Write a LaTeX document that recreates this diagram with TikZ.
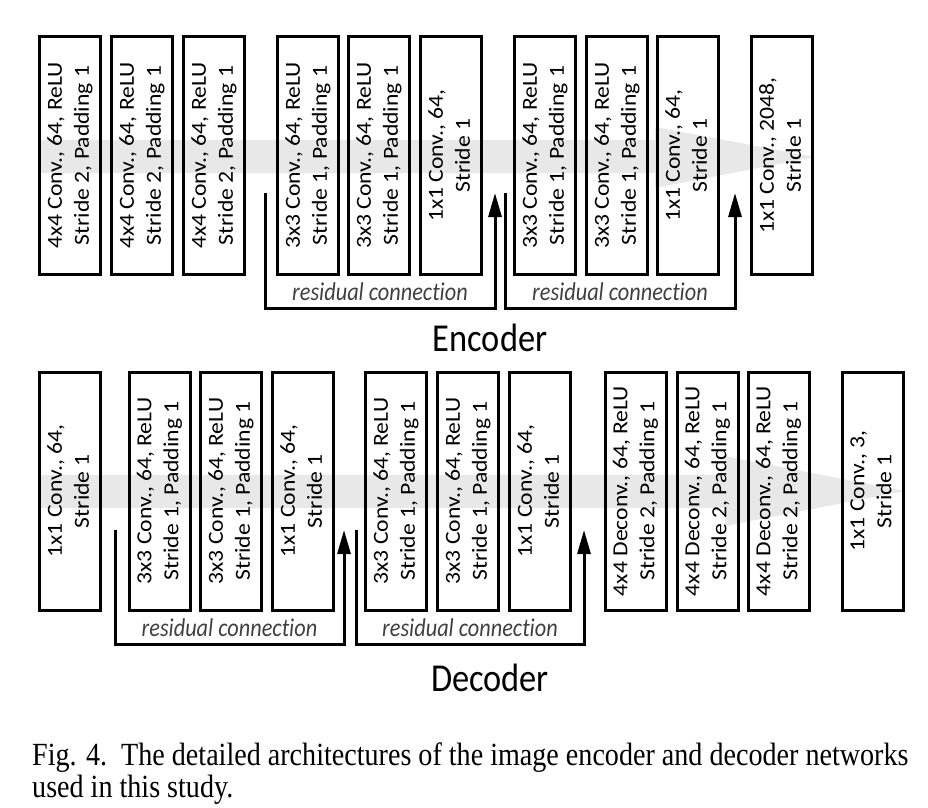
\documentclass[tikz,border=0pt]{standalone}
\usepackage{fontspec}
\setmainfont{Liberation Serif}
\setsansfont{Carlito}[Ligatures=CommonOff]
\usetikzlibrary{arrows.meta, positioning}

\tikzset{
  layer/.style={draw, line width=3pt, minimum width=61pt, minimum height=238pt,
    inner sep=0pt, font=\sffamily\fontsize{21.5}{27}\selectfont},
  resline/.style={line width=3pt, -{Triangle[length=24pt, width=13pt]}},
  reslabel/.style={font=\sffamily\itshape\fontsize{22.3}{27}\selectfont, text=black!75},
  band/.style={fill=black!9},
  netname/.style={font=\sffamily\fontsize{34.4}{40}\selectfont},
}
\newcommand{\layertext}[2]{\rotatebox{90}{\scalebox{1.1}[1]{\begin{tabular}{@{}c@{}}#1\\#2\end{tabular}}}}
\newcommand{\tall}[1]{\scalebox{1}[1.15]{#1}}

\begin{document}
\begin{tikzpicture}[x=1pt, y=-1pt]
    \useasboundingbox (0,0) rectangle (928,807);

    % Data flow bands
    \fill[band] (40,140) -- (655,140) -- (655,127) -- (815,157) -- (655,188) -- (655,173) -- (40,173) -- cycle;
    \fill[band] (40,475) -- (725,475) -- (725,456) -- (905,491) -- (725,526) -- (725,508) -- (40,508) -- cycle;

    % Encoder layers
    \foreach \x/\name/\top/\bot in {
            70/e1/{4x4 Conv., 64, ReLU}/{Stride 2, Padding 1},
            142/e2/{4x4 Conv., 64, ReLU}/{Stride 2, Padding 1},
            214/e3/{4x4 Conv., 64, ReLU}/{Stride 2, Padding 1},
            308/e4/{3x3 Conv., 64, ReLU}/{Stride 1, Padding 1},
            379/e5/{3x3 Conv., 64, ReLU}/{Stride 1, Padding 1},
            451/e6/{1x1 Conv., 64,}/{Stride 1},
            545/e7/{3x3 Conv., 64, ReLU}/{Stride 1, Padding 1},
            617/e8/{3x3 Conv., 64, ReLU}/{Stride 1, Padding 1},
            688/e9/{1x1 Conv., 64,}/{Stride 1},
            782/e10/{1x1 Conv., 2048,}/{Stride 1}
        } {
        \node[layer] (\name) at (\x,155.5) {\layertext{\top}{\bot}};
    }

    % Decoder layers
    \foreach \x/\name/\top/\bot in {
            70/d1/{1x1 Conv., 64,}/{Stride 1},
            159.5/d2/{3x3 Conv., 64, ReLU}/{Stride 1, Padding 1},
            231/d3/{3x3 Conv., 64, ReLU}/{Stride 1, Padding 1},
            303/d4/{1x1 Conv., 64,}/{Stride 1},
            396/d5/{3x3 Conv., 64, ReLU}/{Stride 1, Padding 1},
            468/d6/{3x3 Conv., 64, ReLU}/{Stride 1, Padding 1},
            540/d7/{1x1 Conv., 64,}/{Stride 1},
            635.5/d8/{4x4 Deconv., 64, ReLU}/{Stride 2, Padding 1},
            707.5/d9/{4x4 Deconv., 64, ReLU}/{Stride 2, Padding 1},
            778.5/d10/{4x4 Deconv., 64, ReLU}/{Stride 2, Padding 1},
            872.5/d11/{1x1 Conv., 3,}/{Stride 1}
        } {
        \node[layer] (\name) at (\x,491) {\layertext{\top}{\bot}};
    }

    % Residual connections (encoder)
    \coordinate (er1s) at (265,193);
    \coordinate (er1e) at (495,193);
    \coordinate (er2s) at (505,193);
    \coordinate (er2e) at (735,193);
    \draw[resline] (er1s) -- ++(0,115) -| (er1e)
        node[reslabel, pos=0.25, yshift=16pt] (er1l) {\tall{residual connection}};
    \draw[resline] (er2s) -- ++(0,115) -| (er2e)
        node[reslabel, pos=0.25, yshift=16pt] (er2l) {\tall{residual connection}};

    % Residual connections (decoder)
    \coordinate (dr1s) at (115,530);
    \coordinate (dr1e) at (344,530);
    \coordinate (dr2s) at (356,530);
    \coordinate (dr2e) at (584,530);
    \draw[resline] (dr1s) -- ++(0,114) -| (dr1e)
        node[reslabel, pos=0.25, yshift=16pt] (dr1l) {\tall{residual connection}};
    \draw[resline] (dr2s) -- ++(0,114) -| (dr2e)
        node[reslabel, pos=0.25, yshift=16pt] (dr2l) {\tall{residual connection}};

    % Titles
    \node[netname] (enc) at (490,338) {\tall{Encoder}};
    \node[netname] (dec) at (490,678) {\tall{Decoder}};

    % Caption
    \node[anchor=base west, font=\fontsize{28.1}{28.2}\selectfont, inner sep=0pt] (cap) at (32,765)
        {\scalebox{1}[1.15]{\begin{tabular}[t]{@{}l@{}}Fig. 4.\ \ The detailed architectures of the image encoder and decoder networks\\used in this study.\end{tabular}}};

\end{tikzpicture}
\end{document}
